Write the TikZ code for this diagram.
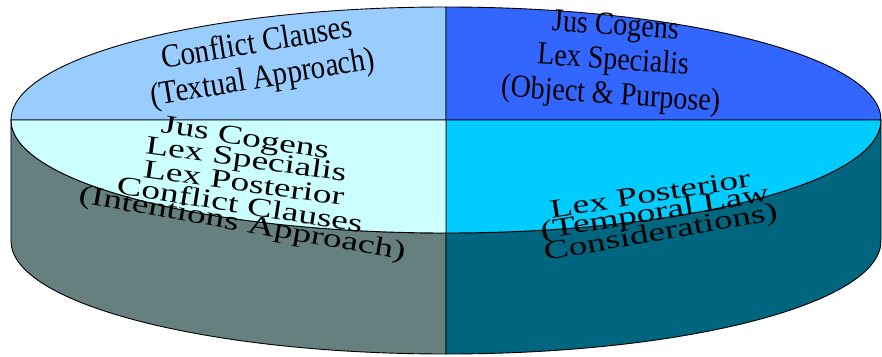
\documentclass[tikz,border=0pt]{standalone}
\usepackage{fontspec}
\setmainfont{Liberation Serif}
\usepackage{tikz}
\definecolor{paleblue}{HTML}{99CCFF}
\definecolor{royal}{HTML}{3366FF}
\definecolor{palecyan}{HTML}{CCFFFF}
\definecolor{skycyan}{HTML}{00CCFF}
\definecolor{greywall}{RGB}{102,128,128}
\definecolor{tealwall}{RGB}{0,102,128}
\tikzstyle{slice} = [draw=black, line width=0.9pt, line join=round]
\tikzstyle{toptext} = [align=center, inner sep=0pt, yscale=1.15, font=\fontsize{28}{30}\selectfont]
\tikzstyle{sidetext} = [inner sep=0pt, xscale=1.7, yscale=1.2, font=\fontsize{22}{22}\selectfont]

\begin{document}
\begin{tikzpicture}[x=1pt, y=1pt]
\useasboundingbox (-446,-236) rectangle (436,120);

% side walls
\draw [slice, fill=greywall] (-435,0) -- (-435,-121) arc[start angle=180, end angle=270, x radius=435, y radius=113] -- (0,-113) arc[start angle=270, end angle=180, x radius=435, y radius=113] -- cycle;
\draw [slice, fill=tealwall] (0,-234) arc[start angle=270, end angle=360, x radius=435, y radius=113] -- (435,0) arc[start angle=0, end angle=-90, x radius=435, y radius=113] -- cycle;

% top face
\draw [slice, fill=paleblue] (0,0) -- (-435,0) arc[start angle=180, end angle=90, x radius=435, y radius=113] -- cycle;
\draw [slice, fill=royal] (0,0) -- (0,113) arc[start angle=90, end angle=0, x radius=435, y radius=113] -- cycle;
\draw [slice, fill=skycyan] (0,0) -- (435,0) arc[start angle=0, end angle=-90, x radius=435, y radius=113] -- cycle;
\draw [slice, fill=palecyan] (0,0) -- (0,-113) arc[start angle=270, end angle=180, x radius=435, y radius=113] -- cycle;

% labels
\node (textual) [rotate=9.5, toptext, font=\fontsize{29}{30.5}\selectfont] at (-186,58) {Conflict Clauses\\(Textual Approach)};
\node (object) [rotate=-4, toptext] at (167,58) {Jus Cogens\\Lex Specialis\\(Object \& Purpose)};

\node (intA) [rotate=-9, sidetext] at (-201,-20) {Jus Cogens};
\node (intB) [rotate=-8, sidetext] at (-200,-41) {Lex Specialis};
\node (intC) [rotate=-8, sidetext] at (-202,-63) {Lex Posterior};
\node (intD) [rotate=-9, sidetext] at (-206,-84) {Conflict Clauses};
\node (intE) [rotate=-10, sidetext] at (-204,-105) {(Intentions Approach)};

\node (tempA) [rotate=9, sidetext] at (204,-74) {Lex Posterior};
\node (tempB) [rotate=9.5, sidetext] at (209,-94) {(Temporal Law};
\node (tempC) [rotate=10, sidetext] at (215,-114) {Considerations)};

\end{tikzpicture}
\end{document}
